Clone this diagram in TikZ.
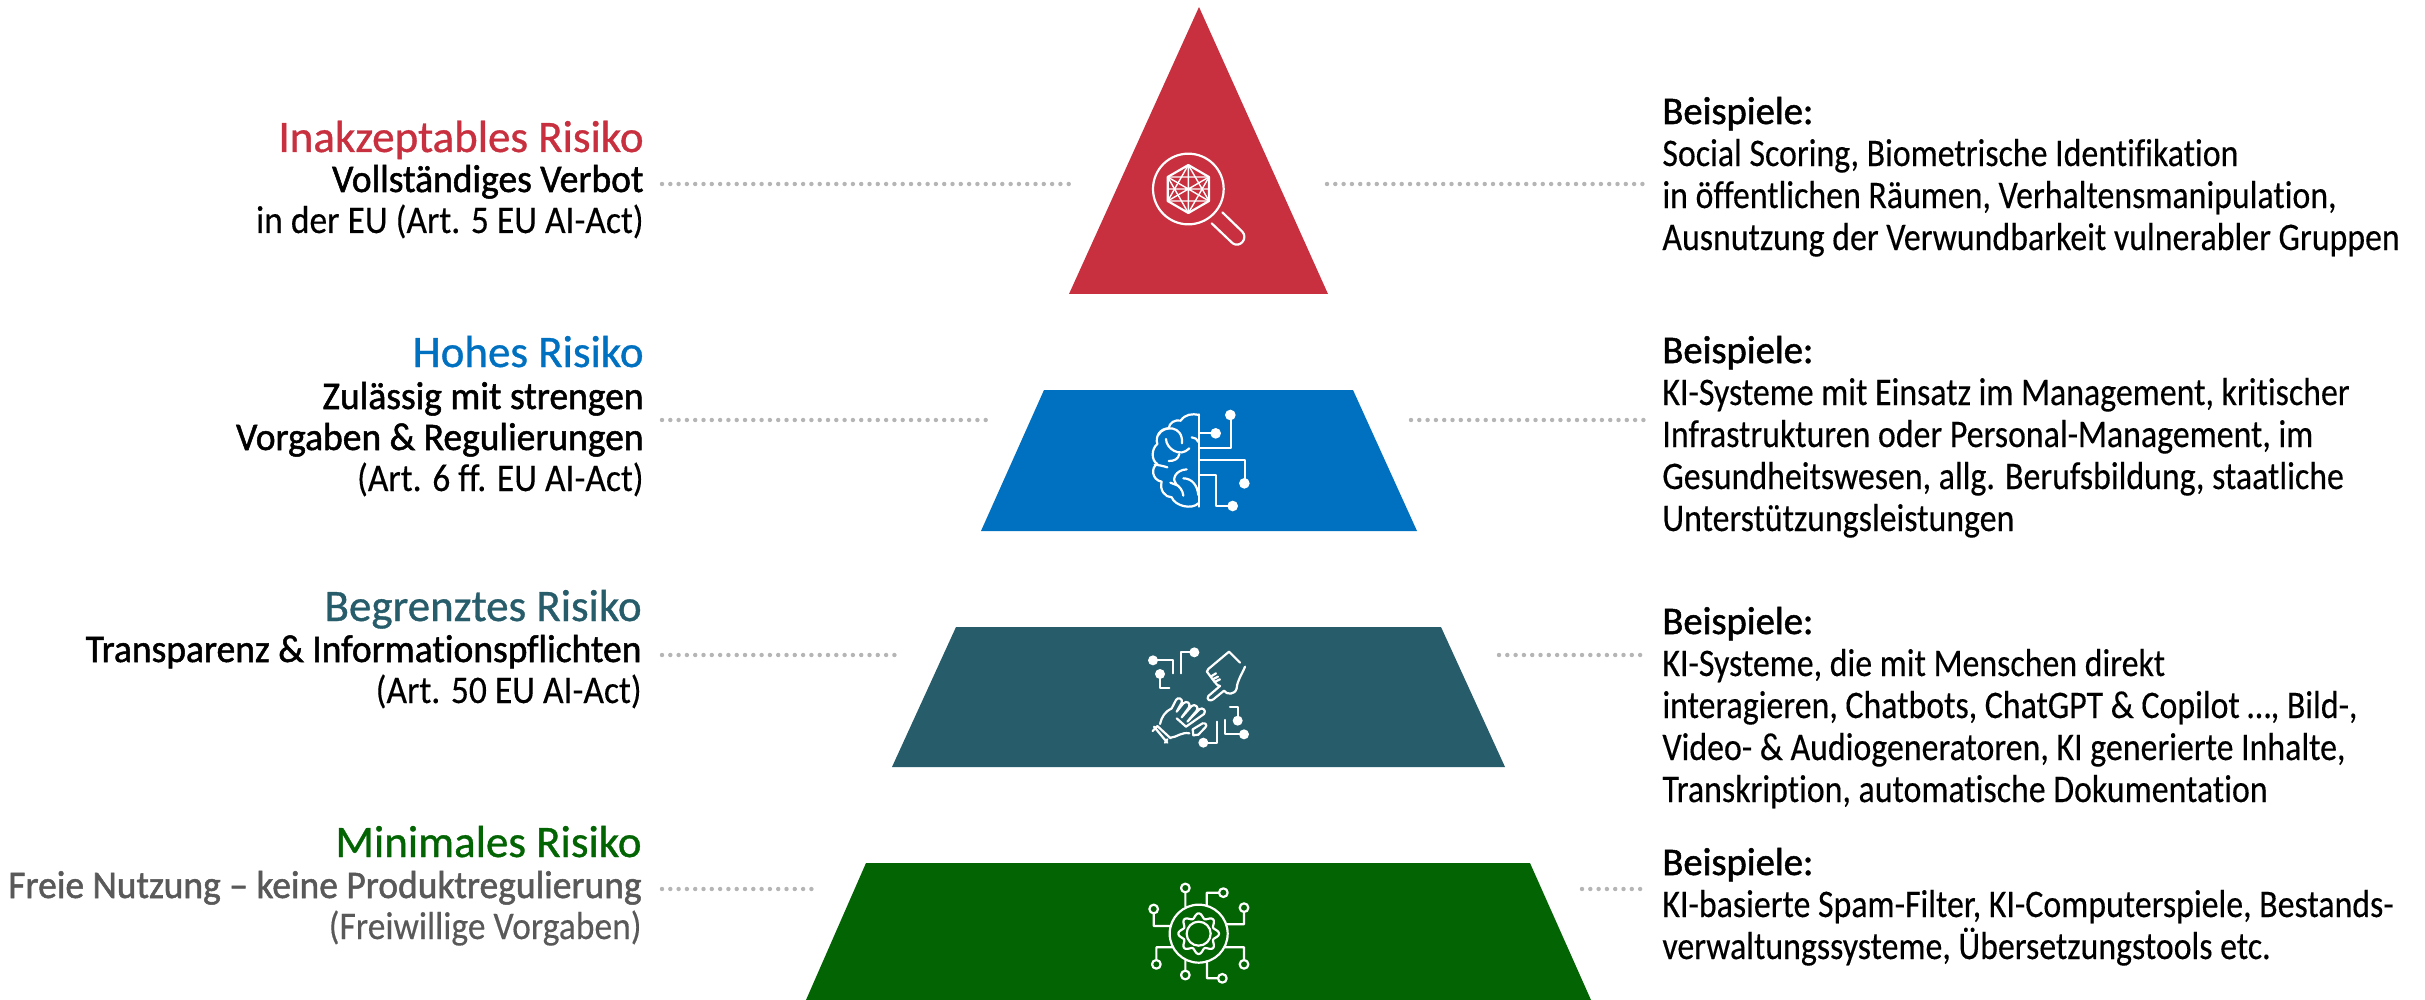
\documentclass[tikz,border=0pt]{standalone}
\usepackage{fontspec}
\setmainfont{Carlito}[Ligatures=NoCommon,FakeStretch=0.868,FakeBold=0.3]
\newfontfamily\leftfont{Carlito}[Ligatures=NoCommon,FakeStretch=0.91,FakeBold=0.3]
\newfontfamily\titlefont{Carlito}[Ligatures=NoCommon,FakeStretch=1.0,FakeBold=0.8]
\newfontfamily\medfont{Carlito}[Ligatures=NoCommon,FakeBold=1.3,FakeStretch=0.962]
\newfontfamily\headfont{Carlito}[Ligatures=NoCommon,FakeBold=1.3,FakeStretch=0.99]
\definecolor{cred}{HTML}{C8303F}
\definecolor{cblue}{HTML}{0070C0}
\definecolor{cteal}{HTML}{275C6B}
\definecolor{cgreen}{HTML}{036403}
\definecolor{cgrey}{HTML}{595959}
\definecolor{cdot}{HTML}{B5B5B5}
\newcommand{\ttl}[2]{{\color{#1}\titlefont\fontsize{22.5}{20.5}\selectfont #2}}
\newcommand{\md}[1]{{\medfont #1}}
\newcommand{\hd}[1]{{\headfont #1}}
\tikzset{
  x=0.5pt,y=-0.5pt,
  leftlbl/.style={anchor=base east,align=right,inner sep=0pt,font=\leftfont\fontsize{19.5}{20.5}\selectfont},
  rightlbl/.style={anchor=base west,align=left,inner sep=0pt,font=\fontsize{19.5}{21}\selectfont},
  dotline/.style={cdot,line width=2.2pt,line cap=round,dash pattern=on 0pt off 4.15pt},
  ico/.style={white,line width=1.1pt,line cap=round,line join=round},
  icob/.style={shift={#1},x=0.16667pt,y=-0.16667pt},
  dotw/.style={fill=white,draw=none},
}
\begin{document}
\begin{tikzpicture}
\useasboundingbox (0,0) rectangle (2425,1000);
\fill[white] (0,0) rectangle (2425,1000);
% tiers
\fill[cred] (1199,7) -- (1328,294) -- (1069,294) -- cycle;
\fill[cblue] (1044,390) -- (1353,390) -- (1417,531) -- (981,531) -- cycle;
\fill[cteal] (956,627) -- (1441,627) -- (1505,767) -- (892,767) -- cycle;
\fill[cgreen] (866,863) -- (1530,863) -- (1591,1000) -- (806,1000) -- cycle;
% connector ends
\coordinate (la) at (662,184); \coordinate (lb) at (1070,184);
\coordinate (ra) at (1327,184); \coordinate (rb) at (1647,184);
\coordinate (lc) at (662,420); \coordinate (ld) at (987,420);
\coordinate (rc) at (1411,420); \coordinate (rd) at (1647,420);
\coordinate (le) at (662,655); \coordinate (lf) at (897,655);
\coordinate (re) at (1499,655); \coordinate (rf) at (1647,655);
\coordinate (lg) at (662,889); \coordinate (lh) at (813,889);
\coordinate (rg) at (1582,889); \coordinate (rh) at (1647,889);
\draw[dotline] (la) -- (lb); \draw[dotline] (ra) -- (rb);
\draw[dotline] (lc) -- (ld); \draw[dotline] (rc) -- (rd);
\draw[dotline] (le) -- (lf); \draw[dotline] (re) -- (rf);
\draw[dotline] (lg) -- (lh); \draw[dotline] (rg) -- (rh);
% left labels
\node[leftlbl] (tl1) at (644,233) {\ttl{cred}{Inakzeptables Risiko}\\[-.5pt]\md{Vollständiges Verbot}\\in der EU (Art. 5 EU AI-Act)};
\node[leftlbl] (tl2) at (644,491) {\ttl{cblue}{Hohes Risiko}\\[.5pt]\md{Zulässig mit strengen}\\\md{Vorgaben \& Regulierungen}\\(Art. 6 ff. EU AI-Act)};
\node[leftlbl] (tl3) at (642,703) {\ttl{cteal}{Begrenztes Risiko}\\\md{Transparenz \& Informationspflichten}\\(Art. 50 EU AI-Act)};
\node[leftlbl] (tl4) at (642,939) {\ttl{cgreen}{Minimales Risiko}\\{\color{cgrey}\md{Freie Nutzung – keine Produktregulierung}}\\{\color{cgrey}(Freiwillige Vorgaben)}};
% right labels
\node[rightlbl] (tr1) at (1662,250) {\hd{Beispiele:}\\Social Scoring, Biometrische Identifikation\\in öffentlichen Räumen, Verhaltensmanipulation,\\Ausnutzung der Verwundbarkeit vulnerabler Gruppen};
\node[rightlbl] (tr2) at (1662,531) {\hd{Beispiele:}\\KI-Systeme mit Einsatz im Management, kritischer\\Infrastrukturen oder Personal-Management, im\\Gesundheitswesen, allg. Berufsbildung, staatliche\\Unterstützungsleistungen};
\node[rightlbl] (tr3) at (1662,802) {\hd{Beispiele:}\\KI-Systeme, die mit Menschen direkt\\interagieren, Chatbots, ChatGPT \& Copilot \dots, Bild-,\\Video- \& Audiogeneratoren, KI generierte Inhalte,\\Transkription, automatische Dokumentation};
\node[rightlbl] (tr4) at (1662,959) {\hd{Beispiele:}\\KI-basierte Spam-Filter, KI-Computerspiele, Bestands-\\verwaltungssysteme, Übersetzungstools etc.};
% red icon
\begin{scope}[icob={(1040,0)}]
 \draw[ico,line width=1.1pt] (445,567) circle (106);
 \draw[ico,line width=1.1pt] (445,495) -- (507,531) -- (507,603) -- (445,639) -- (383,603) -- (383,531) -- cycle;
 \draw[ico,line width=.7pt] (445,495) -- (507,603) -- (383,603) -- cycle;
 \draw[ico,line width=.7pt] (445,639) -- (507,531) -- (383,531) -- cycle;
 \draw[ico,line width=.7pt] (445,495) -- (445,639) (383,531) -- (507,603) (383,603) -- (507,531) (383,567) -- (507,567);
 \draw[ico] (515,670) -- (578,730) .. controls (600,745) and (625,715) .. (607,695) -- (547,637);
\end{scope}
% blue icon
\begin{scope}[icob={(1080,380)}]
 \draw[ico] (357,103) -- (357,380);
 \draw[ico] (357,160) -- (407,160);
 \fill[dotw] (407,160) circle (16);
 \draw[ico] (357,205) -- (452,205) -- (452,105);
 \fill[dotw] (451,105) circle (16);
 \draw[ico] (357,240) -- (494,240) -- (494,310);
 \fill[dotw] (493,310) circle (16);
 \draw[ico] (357,285) -- (409,285) -- (409,378) -- (458,378);
 \fill[dotw] (458,378) circle (16);
 \draw[ico] (357,105) .. controls (335,100) and (315,103) .. (302,122)
   .. controls (285,118) and (268,128) .. (266,145)
   .. controls (240,145) and (225,170) .. (232,192)
   .. controls (215,205) and (212,240) .. (232,252)
   .. controls (212,262) and (215,300) .. (245,305)
   .. controls (238,330) and (255,352) .. (275,352)
   .. controls (285,378) and (335,390) .. (355,370);
 \draw[ico] (235,165) .. controls (250,135) and (310,135) .. (306,190);
 \draw[ico] (258,177) .. controls (258,205) and (300,235) .. (328,205);
 \draw[ico] (298,222) .. controls (295,238) and (282,243) .. (266,243);
 \draw[ico] (224,254) .. controls (235,255) and (250,258) .. (262,262);
 \draw[ico] (335,172) .. controls (345,172) and (352,178) .. (355,186);
 \draw[ico] (320,268) .. controls (285,270) and (275,300) .. (288,312) .. controls (300,322) and (308,330) .. (310,347);
 \draw[ico] (271,308) -- (292,316);
 \draw[ico] (310,295) .. controls (335,295) and (352,315) .. (355,345);
\end{scope}
% teal icon
\begin{scope}[icob={(1080,620)}]
 \draw[ico] (219,121) -- (280,121) -- (280,160);
 \fill[dotw] (219,121) circle (15);
 \draw[ico] (240,162) -- (240,205) -- (268,205);
 \fill[dotw] (240,162) circle (15);
 \draw[ico] (302,160) -- (302,97) -- (343,97);
 \fill[dotw] (343,97) circle (15);
 \draw[ico] (450,260) -- (473,260) -- (473,302);
 \fill[dotw] (473,302) circle (15);
 \draw[ico] (435,300) -- (435,343) -- (492,343);
 \fill[dotw] (492,343) circle (15);
 \draw[ico] (412,305) -- (412,368) -- (370,368);
 \fill[dotw] (370,368) circle (15);
 % pointing hand
 \draw[ico] (480,128) -- (447,95) -- (385,147) .. controls (378,152) and (380,158) .. (386,162)
   -- (392,170) -- (398,178) -- (404,186) -- (412,195) -- (420,198) -- (385,228)
   .. controls (378,238) and (390,246) .. (400,238) -- (432,212)
   .. controls (440,225) and (465,225) .. (470,205) .. controls (472,180) and (485,165) .. (495,140);
 \draw[ico] (392,170) -- (408,160) (398,178) -- (414,170) (404,186) -- (420,178);
 % robot hand
 \draw[ico] (218,333) -- (232,318) (232,318) -- (272,355) (222,320) -- (262,368) (255,368) -- (262,358);
 \draw[ico] (240,312) .. controls (245,290) and (255,275) .. (275,265) -- (288,240)
   .. controls (292,230) and (310,235) .. (305,248) -- (290,275) -- (310,250)
   .. controls (320,240) and (333,250) .. (327,262) -- (305,292) -- (335,258)
   .. controls (345,250) and (358,262) .. (350,272) -- (322,305) -- (358,268)
   .. controls (368,260) and (380,272) .. (372,282) -- (318,320) -- (290,295);
 \draw[ico] (272,353) .. controls (290,352) and (305,335) .. (328,340);
 \draw[ico] (340,346) -- (338,328) -- (368,310) .. controls (378,308) and (382,316) .. (376,322) -- (355,344) -- cycle;
\end{scope}
% green icon
\begin{scope}[icob={(1080,860)}]
 \draw[ico] (356,221) circle (87);
 \draw[ico] (356,221) circle (36);
 \draw[ico,domain=0:360,samples=145,smooth] plot ({356+(54+7*cos(8*\x))*cos(\x)},{221+(54+7*cos(8*\x))*sin(\x)}) -- cycle;
 \draw[ico] (316,84) circle (13) (316,97) -- (316,140);
 \draw[ico] (430,98) circle (13) (417,98) -- (380,98) -- (380,135);
 \draw[ico] (221,147) circle (13) (221,160) -- (221,198) -- (272,198);
 \draw[ico] (492,143) circle (13) (492,156) -- (492,193) -- (440,193);
 \draw[ico] (229,313) circle (13) (229,300) -- (229,262) -- (278,262);
 \draw[ico] (492,313) circle (13) (492,300) -- (492,262) -- (435,262);
 \draw[ico] (316,345) circle (13) (316,332) -- (316,300);
 \draw[ico] (427,355) circle (13) (414,355) -- (381,355) -- (381,305);
\end{scope}
\end{tikzpicture}
\end{document}
